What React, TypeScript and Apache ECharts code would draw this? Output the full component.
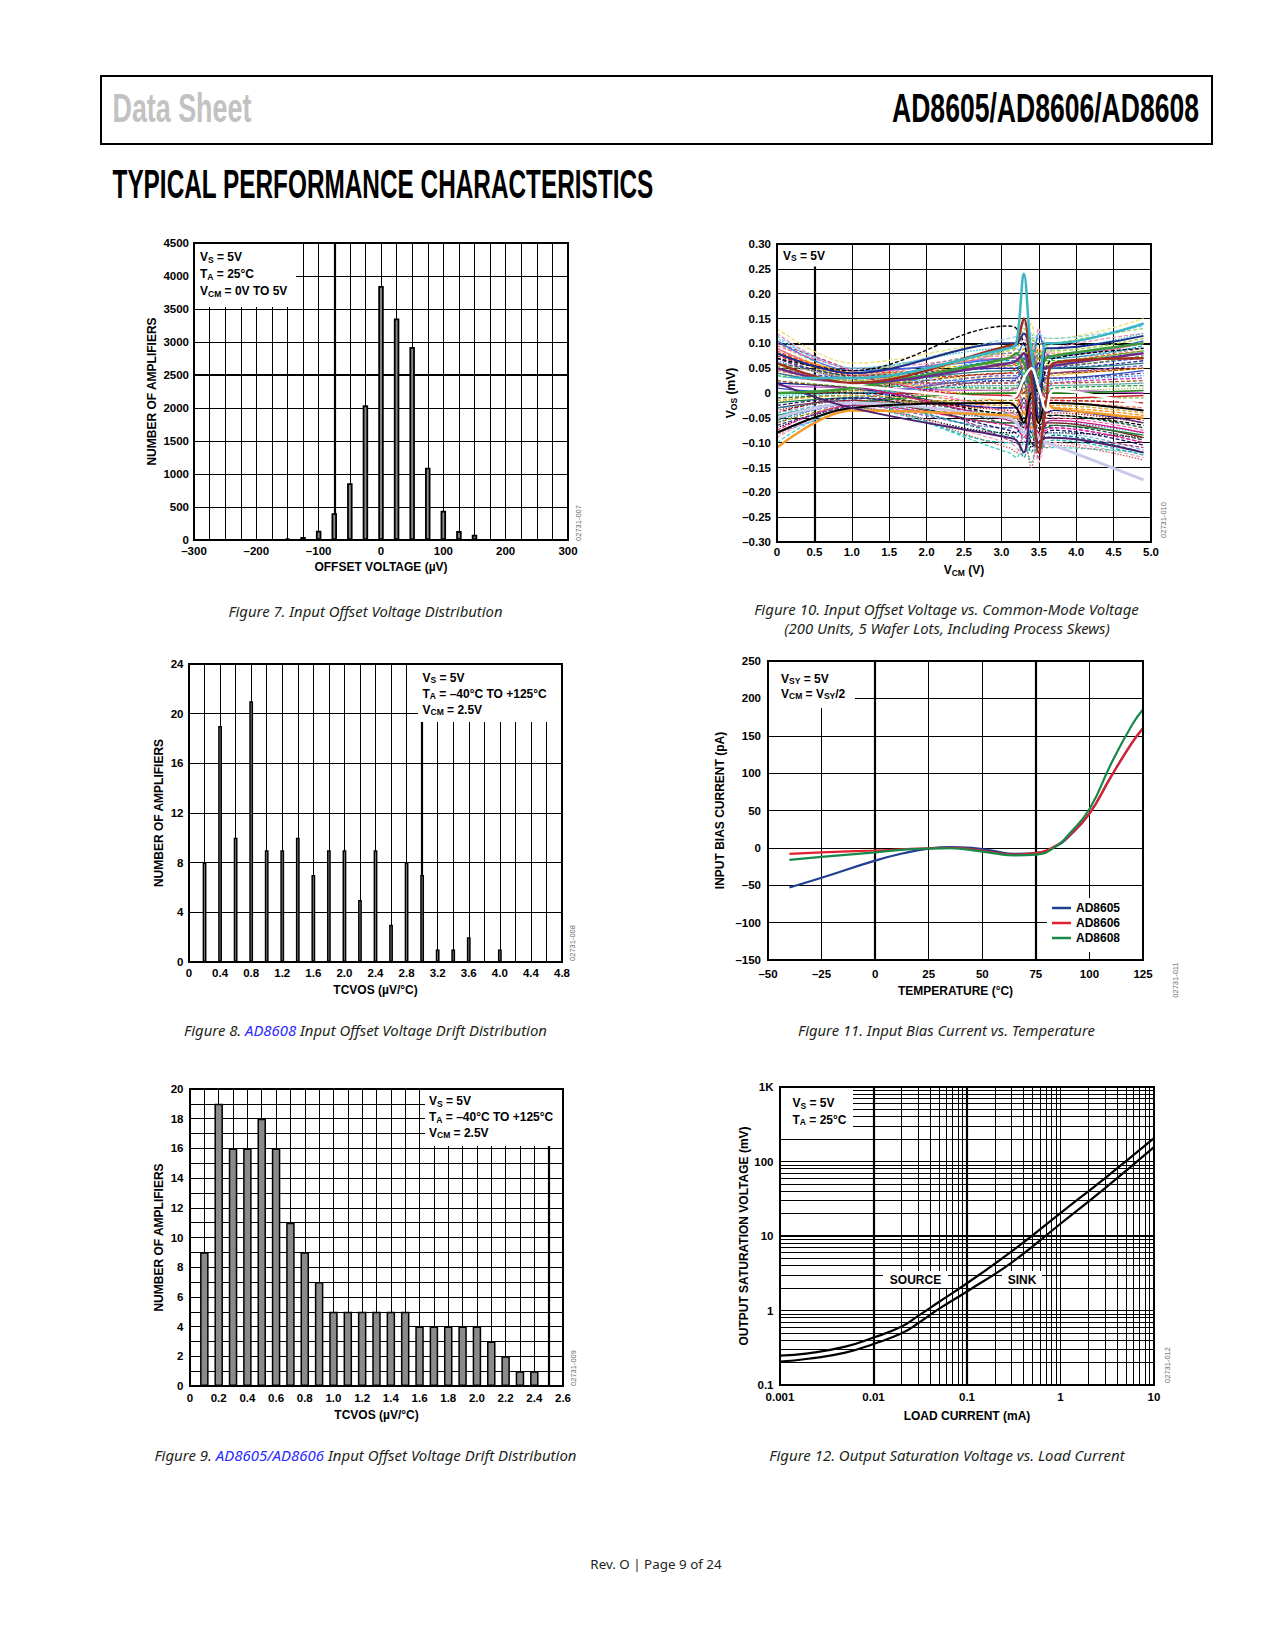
import React, { useEffect, useRef } from 'react';
import * as echarts from 'echarts';

// ---------------- DATA ----------------
// Figure 7
const F7_OFFSET_UV = [-150, -125, -100, -75, -50, -25, 0, 25, 50, 75, 100, 125, 150];
const F7_AMPLIFIERS = [25, 45, 140, 405, 860, 2040, 3850, 3355, 2925, 1095, 445, 135, 80];

// Figure 8
const F8_TCVOS = [0.2, 0.4, 0.6, 0.8, 1.0, 1.2, 1.4, 1.6, 1.8, 2.0, 2.2, 2.4, 2.6, 2.8, 3.0, 3.2, 3.4, 3.6, 4.0];
const F8_AMPLIFIERS = [8, 19, 10, 21, 9, 9, 10, 7, 9, 9, 5, 9, 3, 8, 7, 1, 1, 2, 1];

// Figure 9
const F9_TCVOS = [0.1, 0.2, 0.3, 0.4, 0.5, 0.6, 0.7, 0.8, 0.9, 1.0, 1.1, 1.2, 1.3, 1.4, 1.5, 1.6, 1.7, 1.8, 1.9, 2.0, 2.1, 2.2, 2.3, 2.4];
const F9_AMPLIFIERS = [9, 19, 16, 16, 18, 16, 11, 9, 7, 5, 5, 5, 5, 5, 5, 4, 4, 4, 4, 4, 3, 2, 1, 1];

// Figure 10 (VOS in mV vs VCM in V), representative units
const F10_VCM = [0, 1.0, 3.1, 3.2, 3.3, 3.4, 3.5, 3.6, 3.7, 4.9];
const F10_CURVES: number[][] = [
  [0.12, 0.05, 0.08, 0.09, 0.11, 0.05, 0.13, 0.07, 0.09, 0.12],
  [0.10, 0.045, 0.10, 0.10, 0.13, 0.04, 0.10, 0.095, 0.10, 0.13],
  [0.07, 0.03, 0.04, 0.05, 0.03, 0.08, 0.00, 0.03, 0.04, 0.05],
  [0.05, 0.03, 0.05, 0.05, 0.07, -0.02, 0.06, 0.04, 0.05, 0.07],
  [0.09, 0.04, 0.03, 0.03, 0.05, 0.01, -0.03, 0.03, 0.035, 0.05],
  [0.04, 0.02, 0.02, 0.03, 0.00, 0.06, 0.02, 0.01, 0.02, 0.03],
  [0.02, 0.015, 0.01, 0.01, 0.04, -0.03, 0.03, 0.005, 0.01, 0.015],
  [-0.02, 0.005, 0.00, 0.00, -0.02, 0.04, -0.04, 0.00, 0.00, 0.005],
  [0.06, 0.035, 0.08, 0.08, 0.10, 0.02, 0.07, 0.07, 0.07, 0.09],
  [-0.04, -0.01, -0.03, -0.03, -0.06, 0.01, -0.05, -0.04, -0.035, -0.055],
  [-0.06, -0.02, -0.05, -0.05, -0.03, -0.08, -0.02, -0.06, -0.06, -0.08],
  [0.00, 0.005, -0.02, -0.02, -0.04, 0.02, -0.06, -0.02, -0.02, -0.03],
  [-0.01, -0.005, -0.04, -0.04, -0.02, -0.07, -0.01, -0.05, -0.045, -0.07],
  [0.11, 0.05, 0.09, 0.09, 0.07, 0.12, 0.04, 0.09, 0.09, 0.12],
  [-0.05, -0.025, -0.07, -0.07, -0.10, -0.03, -0.09, -0.07, -0.07, -0.10],
  [0.08, 0.035, 0.06, 0.06, 0.09, 0.00, 0.05, 0.06, 0.06, 0.08],
  [-0.07, -0.03, -0.08, -0.08, -0.05, -0.11, -0.06, -0.08, -0.08, -0.09],
  [0.01, 0.0, 0.03, 0.03, 0.05, -0.01, 0.04, 0.03, 0.03, 0.045],
  [-0.09, -0.03, -0.10, -0.11, -0.13, -0.07, -0.14, -0.10, -0.10, -0.13],
  [0.13, 0.06, 0.10, 0.10, 0.09, 0.14, 0.06, 0.11, 0.11, 0.15],
  [0.03, 0.01, -0.01, -0.01, 0.01, -0.05, 0.02, -0.01, -0.01, -0.01],
  [-0.03, -0.015, -0.06, -0.06, -0.08, -0.02, -0.11, -0.06, -0.06, -0.09],
  [0.02, 0.01, -0.03, -0.03, -0.01, -0.08, 0.00, -0.04, -0.035, -0.06],
  [-0.10, -0.03, -0.12, -0.13, -0.10, -0.14, -0.08, -0.11, -0.11, -0.12],
  [0.045, 0.025, 0.02, 0.02, 0.04, -0.01, 0.05, 0.02, 0.02, 0.025],
  [0.00, 0.00, -0.005, -0.01, 0.02, -0.04, 0.03, -0.01, -0.01, -0.005],
  [-0.02, -0.01, -0.06, -0.06, -0.04, -0.09, -0.03, -0.07, -0.065, -0.085],
  [0.07, 0.035, 0.05, 0.05, 0.02, 0.09, 0.03, 0.05, 0.05, 0.065],
  [-0.04, -0.02, -0.07, -0.07, -0.09, -0.05, -0.12, -0.08, -0.08, -0.115],
  [0.05, 0.025, 0.015, 0.015, 0.0, 0.05, -0.02, 0.015, 0.015, 0.02],
  [0.0, 0.0, -0.045, -0.05, -0.07, -0.01, -0.08, -0.045, -0.045, -0.065],
  [0.04, 0.02, 0.045, 0.045, 0.07, 0.00, 0.08, 0.05, 0.05, 0.06],
  [-0.06, -0.025, -0.015, -0.015, -0.03, 0.02, -0.05, -0.015, -0.015, -0.02],
  [0.09, 0.04, 0.07, 0.07, 0.05, 0.10, 0.02, 0.075, 0.075, 0.10],
  [0.08, 0.04, -0.02, -0.025, 0.01, -0.06, -0.02, -0.03, -0.03, -0.045],
  [-0.05, -0.015, 0.035, 0.035, 0.06, 0.0, 0.05, 0.035, 0.04, 0.055],
  [0.06, 0.03, -0.065, -0.07, -0.04, -0.10, -0.07, -0.065, -0.065, -0.095],
  [-0.03, -0.01, 0.065, 0.065, 0.03, 0.10, 0.05, 0.07, 0.07, 0.095],
  [0.10, 0.045, -0.095, -0.10, -0.12, -0.06, -0.13, -0.09, -0.09, -0.11],
  [-0.08, -0.03, 0.09, 0.095, 0.12, 0.06, 0.11, 0.10, 0.10, 0.14],
  [0.085, 0.04, 0.055, 0.06, 0.08, 0.02, 0.09, 0.05, 0.06, 0.085],
  [0.065, 0.03, 0.025, 0.03, 0.06, -0.02, 0.04, 0.02, 0.025, 0.035],
  [0.035, 0.02, 0.06, 0.06, 0.04, 0.09, 0.03, 0.065, 0.065, 0.085],
  [0.015, 0.01, 0.005, 0.01, -0.03, 0.03, -0.01, 0.0, 0.005, 0.0],
  [-0.015, -0.005, -0.025, -0.025, 0.0, -0.05, -0.03, -0.03, -0.025, -0.04],
  [-0.035, -0.015, -0.035, -0.04, -0.07, -0.01, -0.06, -0.04, -0.04, -0.06],
  [-0.055, -0.02, -0.085, -0.09, -0.06, -0.12, -0.09, -0.09, -0.085, -0.12],
  [-0.075, -0.025, -0.065, -0.07, -0.09, -0.04, -0.08, -0.075, -0.07, -0.10],
  [0.105, 0.045, 0.07, 0.075, 0.10, 0.04, 0.12, 0.08, 0.075, 0.105],
  [0.055, 0.025, 0.085, 0.09, 0.06, 0.11, 0.08, 0.085, 0.085, 0.11],
  [0.025, 0.012, 0.04, 0.04, 0.06, 0.01, 0.05, 0.04, 0.04, 0.05],
  [-0.005, 0.0, 0.015, 0.015, 0.03, -0.02, 0.01, 0.015, 0.015, 0.02],
  [0.075, 0.035, -0.01, -0.01, -0.04, 0.03, -0.05, -0.015, -0.015, -0.02],
  [-0.045, -0.02, 0.0, 0.0, 0.02, -0.03, 0.04, 0.0, 0.0, 0.005],
  [0.095, 0.045, -0.04, -0.045, -0.07, 0.0, -0.09, -0.05, -0.05, -0.075],
  [-0.065, -0.025, 0.025, 0.025, 0.0, 0.06, 0.01, 0.03, 0.03, 0.04],
  [0.115, 0.05, 0.11, 0.115, 0.14, 0.08, 0.12, 0.11, 0.11, 0.135],
  [-0.085, -0.03, -0.11, -0.12, -0.08, -0.15, -0.10, -0.11, -0.105, -0.135],
  [0.0, 0.005, 0.055, 0.055, 0.08, 0.02, 0.07, 0.055, 0.055, 0.075],
  [0.03, 0.015, -0.055, -0.06, -0.08, -0.02, -0.10, -0.06, -0.055, -0.08],
  [0.045, 0.02, 0.075, 0.075, 0.05, 0.10, 0.06, 0.08, 0.08, 0.10],
  [-0.025, -0.01, -0.075, -0.08, -0.05, -0.10, -0.11, -0.08, -0.075, -0.105],
  [0.06, 0.03, 0.005, 0.005, 0.03, -0.03, 0.0, 0.005, 0.005, 0.01],
  [-0.045, -0.02, -0.10, -0.10, -0.13, -0.06, -0.12, -0.10, -0.095, -0.125],
  [0.07, 0.045, 0.135, 0.13, 0.10, 0.04, 0.0, 0.05, 0.07, 0.09],
  [-0.05, -0.02, -0.05, -0.06, -0.08, -0.07, -0.09, -0.10, -0.105, -0.175],
  [-0.11, -0.035, -0.045, -0.05, -0.04, -0.07, -0.05, -0.02, -0.03, -0.05],
  [-0.08, -0.03, -0.02, -0.03, -0.06, 0.0, -0.06, -0.02, -0.02, -0.035],
  [0.02, -0.03, -0.09, -0.095, -0.12, -0.04, -0.10, -0.09, -0.09, -0.12],
  [0.00, 0.01, 0.07, 0.08, 0.06, 0.02, 0.04, 0.07, 0.075, 0.10],
  [0.05, 0.02, 0.06, 0.065, 0.08, 0.03, 0.06, 0.05, 0.055, 0.08],
  [0.08, 0.04, 0.10, 0.10, 0.12, 0.07, -0.05, 0.09, 0.09, 0.115],
  [0.06, 0.02, 0.095, 0.10, 0.15, 0.03, -0.12, -0.02, 0.06, 0.07],
  [0.03, 0.03, 0.09, 0.10, 0.24, 0.08, 0.02, 0.10, 0.10, 0.14],
  [0.03, 0.015, -0.01, -0.005, 0.03, 0.05, 0.01, -0.035, 0.005, -0.025],
];
// look of each curve: colour, dash kind (d dashed, o dotted, s solid), width
const F10_LOOK: [string, string, number][] = [
  ['#e58fb5', 'd', 1.3], ['#9ad07a', 'd', 1.3], ['#e02020', 'd', 1.3], ['#2040e0', 'd', 1.3],
  ['#f0c020', 'd', 1.3], ['#d030c0', 'd', 1.3], ['#20a040', 'd', 1.3], ['#a0a020', 'o', 1.3],
  ['#909090', 'd', 1.3], ['#900000', 'd', 1.3], ['#4070b0', 'o', 1.3], ['#f08060', 'd', 1.3],
  ['#106030', 'd', 1.3], ['#30c0d0', 'o', 1.3], ['#9060d0', 'd', 1.3], ['#e0b000', 'd', 1.3],
  ['#000000', 'o', 1.3], ['#3050c0', 's', 1.3], ['#f0a0c0', 'd', 1.3], ['#e8e070', 'd', 1.3],
  ['#7cc040', 'd', 1.3], ['#802020', 's', 1.3], ['#1020a0', 's', 1.3], ['#40d0c0', 'd', 1.3],
  ['#a06030', 'd', 1.3], ['#d02030', 's', 1.3], ['#208040', 's', 1.3], ['#3030a0', 'd', 1.3],
  ['#80b0e0', 'd', 1.3], ['#e07070', 'o', 1.3], ['#000000', 'd', 1.3], ['#208080', 's', 1.3],
  ['#808000', 'd', 1.3], ['#e060a0', 's', 1.3], ['#ff8c00', 'd', 1.3], ['#6a5acd', 'd', 1.3],
  ['#2f4f4f', 'd', 1.3], ['#00a0e0', 'd', 1.3], ['#c04080', 'd', 1.3], ['#50a0ff', 'd', 1.3],
  ['#ff4500', 'd', 1.3], ['#1e90ff', 'o', 1.3], ['#32cd32', 'd', 1.3], ['#ba55d3', 's', 1.3],
  ['#daa520', 'd', 1.3], ['#b22222', 'o', 1.3], ['#008b8b', 'd', 1.3], ['#ff1493', 'd', 1.3],
  ['#4169e1', 's', 1.3], ['#9acd32', 'd', 1.3], ['#8b4513', 'd', 1.3], ['#00ced1', 'o', 1.3],
  ['#dc143c', 'd', 1.3], ['#228b22', 's', 1.3], ['#ff69b4', 'd', 1.3], ['#483d8b', 'd', 1.3],
  ['#87ceeb', 'd', 1.3], ['#cd5c5c', 'o', 1.3], ['#6b8e23', 'd', 1.3], ['#c71585', 's', 1.3],
  ['#ffa07a', 'd', 1.3], ['#191970', 'd', 1.3], ['#bdb76b', 'o', 1.3], ['#20b2aa', 'd', 1.3],
  ['#000000', 'd', 1.4], ['#c8c8ea', 's', 3], ['#f39a2a', 's', 2.5], ['#000000', 's', 2],
  ['#4b1f6f', 's', 2], ['#3a9a3a', 's', 2.5], ['#6b2a8f', 's', 2.5], ['#1b2f8a', 's', 2],
  ['#a0301e', 's', 2.5], ['#3ab7c2', 's', 2.5], ['#ffffff', 's', 2.5],
];

// Figure 11
const F11_TEMP = [-40, -25, 0, 15, 25, 35, 45, 55, 65, 75, 85, 90, 100, 110, 120, 125];
const F11_AD8605 = [-53, -40, -17, -6, -1, 1, 0, -4, -8, -7, 3, 14, 46, 95, 141, 160];
const F11_AD8606 = [-8, -6, -3.5, -1.5, -0.5, 0, -2, -6, -9, -7, 4, 15, 46, 95, 141, 160];
const F11_AD8608 = [-16, -12, -6, -2, -1, -0.5, -3, -7, -10, -9, 3, 17, 52, 112, 165, 185];

// Figure 12
const F12_LOAD_MA = [0.001, 0.002, 0.005, 0.01, 0.02, 0.03, 0.05, 0.1, 0.3, 1, 3, 10];
const F12_SOURCE_MV = [0.248, 0.266, 0.327, 0.433, 0.608, 0.845, 1.3, 2.32, 6.2, 20.3, 60, 206];
const F12_SINK_MV = [0.206, 0.225, 0.272, 0.356, 0.494, 0.674, 1.05, 1.8, 4.4, 14.6, 44, 156];

// ---------------- LAYOUT / STYLE ----------------
const FONT = '"Liberation Sans", Arial, Helvetica, sans-serif';
const CAP_FONT = '"Noto Sans", "Open Sans", sans-serif';
// [left, top, width, height] : fig7, fig10, fig8, fig11, fig9, fig12
const GRIDS = [
  [194, 243, 374, 297],
  [777, 244, 374, 298],
  [189, 664, 373, 298],
  [768, 661, 375, 299],
  [190, 1089, 373, 297],
  [780, 1087, 374, 298],
];

const dash = (s: string) => s.replace('-', '\u2013');
const zip = (xs: number[], ys: number[]) => xs.map((x, i) => [x, ys[i]]);

function textWidth(text: string, font: string): number {
  const c = document.createElement('canvas').getContext('2d');
  if (!c) return text.length * 7;
  c.font = font;
  return c.measureText(text).width || text.length * 7;
}

const LBL = { color: '#000', fontFamily: FONT, fontWeight: 'bold', fontSize: 11.5 };
const NAME_STYLE = { color: '#000', fontFamily: FONT, fontWeight: 'bold', fontSize: 12 };
const SPLIT = { show: true, lineStyle: { color: '#000', width: 1 } };

function axis(gi: number, o: any, labelMargin: number, name: string, nameGap: number, isY: boolean, formatter?: any, nameRich?: any) {
  return {
    gridIndex: gi,
    type: 'value',
    axisLine: { show: false },
    axisTick: { show: false },
    splitLine: SPLIT,
    axisLabel: { ...LBL, margin: labelMargin, formatter, showMinLabel: true, showMaxLabel: true, hideOverlap: false },
    name,
    nameLocation: 'middle',
    nameGap,
    nameRotate: isY ? 90 : 0,
    nameTextStyle: nameRich ? { ...NAME_STYLE, rich: nameRich } : NAME_STYLE,
    ...o,
  };
}

function guides(idx: number, xs: number[], ys: number[], width: number) {
  return {
    type: 'line',
    xAxisIndex: idx,
    yAxisIndex: idx,
    data: [],
    z: 1,
    silent: true,
    markLine: {
      silent: true,
      z: 1,
      symbol: ['none', 'none'],
      label: { show: false },
      emphasis: { disabled: true },
      lineStyle: { color: '#000', width, type: 'solid' },
      data: [...xs.map((v) => ({ xAxis: v })), ...ys.map((v) => ({ yAxis: v }))],
    },
  };
}

function bars(idx: number, xs: number[], ys: number[], barWidth: number, border: number) {
  return {
    type: 'bar',
    xAxisIndex: idx,
    yAxisIndex: idx,
    data: zip(xs, ys),
    barWidth,
    z: 2,
    itemStyle: { color: '#8a8a8c', borderColor: '#000', borderWidth: border },
  };
}

const LEG_RICH = {
  b: { fontSize: 12, fontWeight: 'bold', fontFamily: FONT, fill: '#000', lineHeight: 14 },
  s: { fontSize: 8.5, fontWeight: 'bold', fontFamily: FONT, fill: '#000', lineHeight: 6, verticalAlign: 'bottom' },
};
function legLine(x: number, y: number, text: string) {
  return {
    type: 'text', x, y, z: 6, silent: true,
    style: { text, rich: LEG_RICH, align: 'left', textAlign: 'left', verticalAlign: 'middle', textVerticalAlign: 'middle' },
  };
}
function box(x: number, y: number, w: number, h: number) {
  return { type: 'rect', z: 5.5, silent: true, shape: { x, y, width: w, height: h }, style: { fill: '#fff', stroke: 'none' } };
}
function frame(g: number[]) {
  return { type: 'rect', z: 10, silent: true, shape: { x: g[0], y: g[1], width: g[2], height: g[3] }, style: { fill: 'none', stroke: '#000', lineWidth: 2 } };
}
function code(x: number, y: number, text: string) {
  return {
    type: 'text', x, y, rotation: Math.PI / 2, z: 6, silent: true,
    style: { text, fontSize: 7.5, fontFamily: FONT, fill: '#666', align: 'center', textAlign: 'center', verticalAlign: 'middle', textVerticalAlign: 'middle' },
  };
}
function fitted(x: number, y: number, width: number, plain: string, size: number, weight: string, style: string, family: string, fill: string, align: string, richText?: string, rich?: any) {
  const w = textWidth(plain, `${style} ${weight} ${size}px ${family}`);
  return {
    type: 'text', x, y, scaleX: width / w, z: 6, silent: true,
    style: {
      text: richText || plain, rich, fontSize: size, fontWeight: weight, fontStyle: style, fontFamily: family, fill,
      align, textAlign: align, verticalAlign: 'middle', textVerticalAlign: 'middle',
    },
  };
}
function caption(x: number, y: number, width: number, parts: [string, boolean][]) {
  const plain = parts.map((p) => p[0]).join('');
  const base = { fontSize: 15, fontStyle: 'italic', fontWeight: 'normal', fontFamily: CAP_FONT };
  const rich = { n: { ...base, fill: '#231f20' }, l: { ...base, fill: '#2a2aff' } };
  const richText = parts.map((p) => `{${p[1] ? 'l' : 'n'}|${p[0]}}`).join('');
  return fitted(x, y, width, plain, 15, 'normal', 'italic', CAP_FONT, '#231f20', 'center', richText, rich);
}

function buildOption(): any {
  const minorX: number[] = [];
  const minorY: number[] = [];
  [0.001, 0.01, 0.1, 1].forEach((d) => { for (let m = 2; m <= 9; m++) minorX.push(m * d); });
  [0.1, 1, 10, 100].forEach((d) => { for (let m = 2; m <= 9; m++) minorY.push(m * d); });

  const subRich = { b: { ...NAME_STYLE, lineHeight: 14 }, s: { ...NAME_STYLE, fontSize: 8.5, lineHeight: 6, verticalAlign: 'bottom' } };

  const xAxis = [
    axis(0, { min: -300, max: 300, interval: 25 }, 5, 'OFFSET VOLTAGE (\u00b5V)', 21, false,
      (v: number) => (v % 100 === 0 ? dash(String(v)) : '')),
    axis(1, { min: 0, max: 5, interval: 0.5 }, 4, '{b|V}{s|CM}{b| (V)}', 21, false,
      (v: number) => (v === 0 ? '0' : v.toFixed(1)), subRich),
    axis(2, { min: 0, max: 4.8, interval: 0.2 }, 5, 'TCVOS (\u00b5V/\u00b0C)', 22, false,
      (v: number) => { const k = Math.round(v * 10); return k % 4 ? '' : k === 0 ? '0' : (k / 10).toFixed(1); }),
    axis(3, { min: -50, max: 125, interval: 25 }, 8, 'TEMPERATURE (\u00b0C)', 25, false,
      (v: number) => dash(String(v))),
    axis(4, { min: 0, max: 2.6, interval: 0.1 }, 6, 'TCVOS (\u00b5V/\u00b0C)', 23, false,
      (v: number) => { const k = Math.round(v * 10); return k % 2 ? '' : k === 0 ? '0' : (k / 10).toFixed(1); }),
    axis(5, { type: 'log', logBase: 10, min: 0.001, max: 10 }, 6, 'LOAD CURRENT (mA)', 25, false,
      (v: number) => String(Number(v.toPrecision(3)))),
  ];
  const yAxis = [
    axis(0, { min: 0, max: 4500, interval: 500 }, 5, 'NUMBER OF AMPLIFIERS', 36, true,
      (v: number) => String(v)),
    axis(1, { min: -0.3, max: 0.3, interval: 0.05 }, 6, '{b|V}{s|OS}{b| (mV)}', 39, true,
      (v: number) => (Math.abs(v) < 1e-9 ? '0' : (v < 0 ? '\u2013' : '') + Math.abs(v).toFixed(2)), subRich),
    axis(2, { min: 0, max: 24, interval: 4 }, 5.5, 'NUMBER OF AMPLIFIERS', 24, true,
      (v: number) => String(v)),
    axis(3, { min: -150, max: 250, interval: 50 }, 7, 'INPUT BIAS CURRENT (pA)', 42, true,
      (v: number) => dash(String(v))),
    axis(4, { min: 0, max: 20, interval: 1 }, 6.5, 'NUMBER OF AMPLIFIERS', 25, true,
      (v: number) => (v % 2 ? '' : String(v))),
    axis(5, { type: 'log', logBase: 10, min: 0.1, max: 1000 }, 6.5, 'OUTPUT SATURATION VOLTAGE (mV)', 30, true,
      (v: number) => (v >= 999 ? '1K' : String(Number(v.toPrecision(3))))),
  ];

  const series: any[] = [];
  // Fig 7
  series.push(guides(0, [-75], [2500], 2.2));
  series.push(bars(0, F7_OFFSET_UV, F7_AMPLIFIERS, 5.5, 1.8));
  // Fig 10
  series.push(guides(1, [0.5], [0.1], 2.2));
  F10_CURVES.forEach((c, i) => {
    const [color, kind, width] = F10_LOOK[i];
    series.push({
      type: 'line', xAxisIndex: 1, yAxisIndex: 1, data: zip(F10_VCM, c), smooth: 0.35,
      showSymbol: false, symbol: 'none', silent: true, z: 2,
      lineStyle: { color, width, type: kind === 'd' ? [4, 2] : kind === 'o' ? [1.5, 1.5] : 'solid' },
    });
  });
  // Fig 8
  series.push(guides(2, [3.0], [], 2.2));
  series.push(bars(2, F8_TCVOS, F8_AMPLIFIERS, 3.8, 1.5));
  // Fig 11
  series.push(guides(3, [0, 75], [], 2.2));
  const f11 = [['AD8605', F11_AD8605, '#1f3f8f'], ['AD8606', F11_AD8606, '#e3202e'], ['AD8608', F11_AD8608, '#17894a']] as any[];
  f11.forEach(([name, ys, color]) => {
    series.push({
      name, type: 'line', xAxisIndex: 3, yAxisIndex: 3, data: zip(F11_TEMP, ys), smooth: true,
      showSymbol: false, symbol: 'none', z: 2, lineStyle: { color, width: 2.2 }, itemStyle: { color },
    });
  });
  // Fig 9
  series.push(guides(4, [2.5], [], 2.2));
  series.push(bars(4, F9_TCVOS, F9_AMPLIFIERS, 8.5, 1.5));
  // Fig 12
  series.push(guides(5, minorX, minorY, 1));
  series.push(guides(5, [0.005, 0.1], [10], 2.2));
  [F12_SOURCE_MV, F12_SINK_MV].forEach((ys) => {
    series.push({
      type: 'line', xAxisIndex: 5, yAxisIndex: 5, data: zip(F12_LOAD_MA, ys), smooth: true,
      showSymbol: false, symbol: 'none', z: 2, lineStyle: { color: '#000', width: 2.2 },
    });
  });

  const g: any[] = [];
  // header
  g.push({ type: 'rect', z: 6, silent: true, shape: { x: 101, y: 76, width: 1111, height: 68 }, style: { fill: 'none', stroke: '#000', lineWidth: 2 } });
  g.push(fitted(112.5, 108, 139, 'Data Sheet', 40, 'bold', 'normal', FONT, '#c2c2c2', 'left'));
  g.push(fitted(1199, 108, 307, 'AD8605/AD8606/AD8608', 40, 'bold', 'normal', FONT, '#000', 'right'));
  g.push(fitted(112.5, 184.5, 541, 'TYPICAL PERFORMANCE CHARACTERISTICS', 40, 'bold', 'normal', FONT, '#000', 'left'));
  // white legend boxes
  g.push(box(195, 244, 101, 63));
  g.push(box(778, 245, 73, 21.5));
  g.push(box(418, 665, 143, 57));
  g.push(box(769, 662, 86, 46));
  g.push(box(1047, 898, 95, 54));
  g.push(box(425, 1090, 137, 56));
  g.push(box(781, 1088, 72, 42));
  g.push(box(883, 1271, 65, 17));
  g.push(box(1002, 1271, 40, 17));
  // frames
  GRIDS.forEach((gr) => g.push(frame(gr)));
  // legends text
  g.push(legLine(200, 257, '{b|V}{s|S}{b| = 5V}'));
  g.push(legLine(200, 274, '{b|T}{s|A}{b| = 25\u00b0C}'));
  g.push(legLine(200, 291, '{b|V}{s|CM}{b| = 0V TO 5V}'));
  g.push(legLine(783, 255.5, '{b|V}{s|S}{b| = 5V}'));
  g.push(legLine(422.5, 677.5, '{b|V}{s|S}{b| = 5V}'));
  g.push(legLine(422.5, 693.5, '{b|T}{s|A}{b| = \u201340\u00b0C TO +125\u00b0C}'));
  g.push(legLine(422.5, 709.5, '{b|V}{s|CM}{b| = 2.5V}'));
  g.push(legLine(781, 678.5, '{b|V}{s|SY}{b| = 5V}'));
  g.push(legLine(781, 693.5, '{b|V}{s|CM}{b| = V}{s|SY}{b|/2}'));
  g.push(legLine(429, 1101, '{b|V}{s|S}{b| = 5V}'));
  g.push(legLine(429, 1117, '{b|T}{s|A}{b| = \u201340\u00b0C TO +125\u00b0C}'));
  g.push(legLine(429, 1132.5, '{b|V}{s|CM}{b| = 2.5V}'));
  g.push(legLine(792.5, 1103, '{b|V}{s|S}{b| = 5V}'));
  g.push(legLine(792.5, 1119.5, '{b|T}{s|A}{b| = 25\u00b0C}'));
  g.push({ type: 'text', x: 915.5, y: 1279.5, z: 6, silent: true, style: { text: 'SOURCE', fontSize: 12, fontWeight: 'bold', fontFamily: FONT, fill: '#000', align: 'center', textAlign: 'center', verticalAlign: 'middle', textVerticalAlign: 'middle' } });
  g.push({ type: 'text', x: 1022, y: 1279.5, z: 6, silent: true, style: { text: 'SINK', fontSize: 12, fontWeight: 'bold', fontFamily: FONT, fill: '#000', align: 'center', textAlign: 'center', verticalAlign: 'middle', textVerticalAlign: 'middle' } });
  // figure codes
  g.push(code(578, 523, '02731-007'));
  g.push(code(1163, 520, '02731-010'));
  g.push(code(572, 943, '02731-008'));
  g.push(code(1175, 980, '02731-011'));
  g.push(code(573, 1368, '02731-009'));
  g.push(code(1167, 1365, '02731-012'));
  // captions
  g.push(caption(365.5, 611, 274.5, [['Figure 7. Input Offset Voltage Distribution', false]]));
  g.push(caption(946.5, 609, 385, [['Figure 10. Input Offset Voltage vs. Common-Mode Voltage', false]]));
  g.push(caption(947, 628, 326, [['(200 Units, 5 Wafer Lots, Including Process Skews)', false]]));
  g.push(caption(365.5, 1030, 363, [['Figure 8. ', false], ['AD8608', true], [' Input Offset Voltage Drift Distribution', false]]));
  g.push(caption(946.5, 1030, 297, [['Figure 11. Input Bias Current vs. Temperature', false]]));
  g.push(caption(365.5, 1455, 422, [['Figure 9. ', false], ['AD8605/AD8606', true], [' Input Offset Voltage Drift Distribution', false]]));
  g.push(caption(947, 1455, 355.5, [['Figure 12. Output Saturation Voltage vs. Load Current', false]]));
  g.push(fitted(656, 1564, 131.5, 'Rev. O | Page 9 of 24', 13.5, 'normal', 'normal', CAP_FONT, '#231f20', 'center'));

  return {
    animation: false,
    backgroundColor: '#fff',
    textStyle: { fontFamily: FONT },
    grid: GRIDS.map((r) => ({ left: r[0], top: r[1], width: r[2], height: r[3], containLabel: false, show: false })),
    xAxis,
    yAxis,
    legend: [{
      data: ['AD8605', 'AD8606', 'AD8608'], orient: 'vertical', left: 1052, top: 902, z: 7,
      icon: 'rect', itemWidth: 19, itemHeight: 2.5, itemGap: 3, selectedMode: false,
      textStyle: { fontSize: 12, fontWeight: 'bold', fontFamily: FONT, color: '#000', padding: [0, 0, 0, 0] },
      padding: 0,
    }],
    series,
    graphic: { elements: g },
  };
}

export default function App() {
  const ref = useRef<HTMLDivElement>(null);
  useEffect(() => {
    if (!ref.current) return;
    const chart = echarts.init(ref.current, null, { renderer: 'svg', width: 1275, height: 1650 });
    chart.setOption(buildOption());
    return () => chart.dispose();
  }, []);
  return (
    <div
      ref={ref}
      style={{ position: 'absolute', left: 0, top: 0, width: 1275, height: 1650, background: '#fff' }}
    />
  );
}
